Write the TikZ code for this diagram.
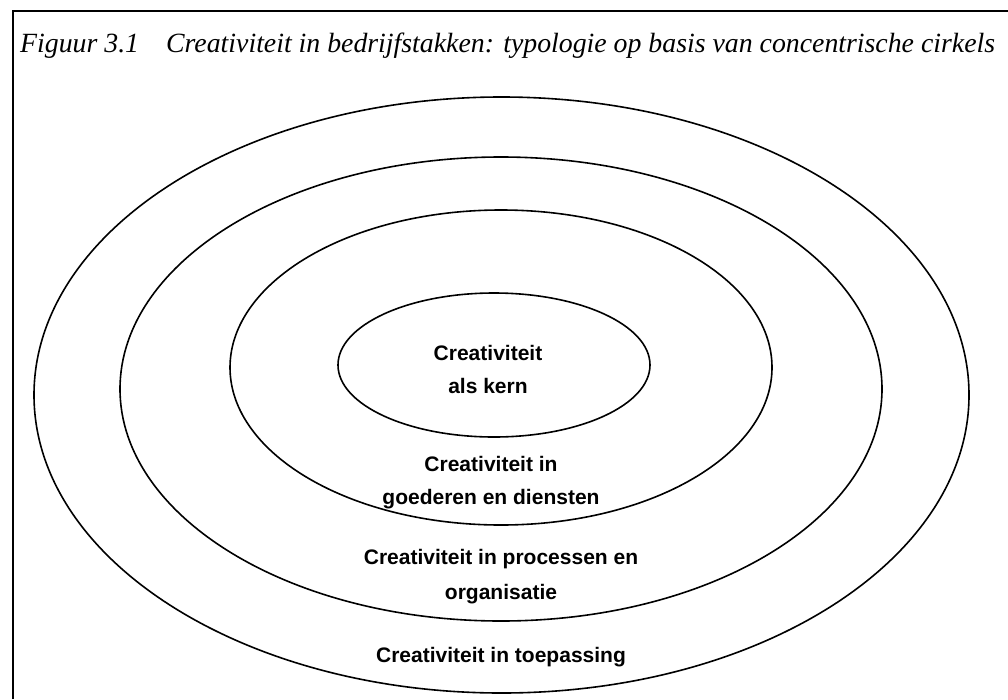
\documentclass[tikz,border=0pt]{standalone}
\usepackage{fontspec}
\setmainfont{Liberation Serif}
\setsansfont{Liberation Sans}
\usetikzlibrary{shapes.geometric}
\begin{document}
\begin{tikzpicture}[x=1pt,y=-1pt,
  ring/.style={draw=black,line width=1.6pt,ellipse,inner sep=0pt,fill=none},
  lbl/.style={font=\sffamily\bfseries\fontsize{21}{33}\selectfont,align=center,inner sep=0pt},
  frameline/.style={draw=black,line width=2pt}]
\useasboundingbox (0,0) rectangle (1008,699);
\fill[white] (0,0) rectangle (1008,699);
% frame
\coordinate (fb) at (12.5,699);
\coordinate (fc) at (12.5,11);
\coordinate (fr) at (1008,11);
\draw[frameline] (fb) -- (fc) -- (fr);
% title
\node[anchor=base west,inner sep=0pt,font=\itshape\fontsize{27.8}{33}\selectfont] (title) at (20,52)
  {Figuur 3.1\hspace{27pt}Creativiteit in bedrijfstakken: typologie op basis van concentrische cirkels};
% rings
\node[ring,minimum width=935pt,minimum height=596pt] (e4) at (501.5,395) {};
\node[ring,minimum width=762pt,minimum height=464pt] (e3) at (501,389) {};
\node[ring,minimum width=542pt,minimum height=315pt] (e2) at (501,367.5) {};
\node[ring,minimum width=312pt,minimum height=144pt] (e1) at (494,365) {};
% labels
\node[lbl] (l1) at (488,369) {Creativiteit\\als kern};
\node[lbl] (l2) at (491,482.5) {Creativiteit in\\goederen en diensten};
\node[lbl] (l3) at (501,576.5) {Creativiteit in processen en\\[2pt]organisatie};
\node[lbl] (l4) at (501,657.5) {Creativiteit in toepassing};
\end{tikzpicture}
\end{document}
